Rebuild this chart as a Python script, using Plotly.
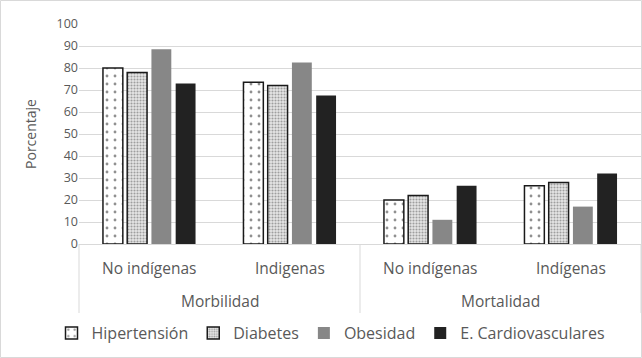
import plotly.graph_objects as go

grupos = ["Morbilidad", "Morbilidad", "Mortalidad", "Mortalidad"]
poblaciones = ["No indígenas", "Indigenas", "No indígenas", "Indígenas"]

hipertension = [80, 73.5, 20, 26.5]
diabetes = [78, 72, 22, 28]
obesidad = [88.5, 82.5, 11, 17]
cardio = [73, 67.5, 26.5, 32]

series = ["Hipertensión", "Diabetes", "Obesidad", "E. Cardiovasculares"]

claves = [f"{g}|{p}" for g, p in zip(grupos, poblaciones)]
font_fam = "Open Sans, Noto Sans, sans-serif"
gris = "#595959"
linea = "#d9d9d9"

fig = go.Figure()
fig.add_bar(x=claves, y=hipertension, name=series[0],
            marker=dict(color="white", line=dict(color="#1a1a1a", width=1.5),
                        pattern=dict(shape=".", fgcolor="#222222", bgcolor="white",
                                     size=8, solidity=0.1)))
fig.add_bar(x=claves, y=diabetes, name=series[1],
            marker=dict(color="white", line=dict(color="#1a1a1a", width=1.5),
                        pattern=dict(shape=".", fgcolor="#555555", bgcolor="#e6e6e6",
                                     size=3, solidity=0.4)))
fig.add_bar(x=claves, y=obesidad, name=series[2],
            marker=dict(color="#878787", line=dict(width=0)))
fig.add_bar(x=claves, y=cardio, name=series[3],
            marker=dict(color="#222222", line=dict(width=0)))

L, R, T, B = 79, 1, 24, 114
W, H = 642, 358
pw, ph = W - L - R, H - T - B

def py(pix):
    return (T + ph - pix) / ph

fig.update_layout(
    width=W, height=H,
    margin=dict(l=L, r=R, t=T, b=B, autoexpand=False),
    paper_bgcolor="white", plot_bgcolor="white",
    barmode="group", bargap=0.31, bargroupgap=0.18,
    font=dict(family=font_fam, color=gris, size=12),
    legend=dict(orientation="h", x=(331 - L) / pw, xanchor="center",
                y=py(333), yanchor="middle",
                font=dict(size=16, color=gris), itemwidth=30,
                traceorder="normal"),
    showlegend=True,
)
fig.update_yaxes(range=[0, 100], dtick=10, showgrid=True, gridcolor=linea,
                 gridwidth=1, zeroline=False, showline=False, automargin=False,
                 tickfont=dict(size=12.5, color=gris), ticks="",
                 title=dict(text="Porcentaje", font=dict(size=14, color=gris), standoff=16))
fig.update_xaxes(type="category", showline=True, linecolor=linea, linewidth=1,
                 showticklabels=False, ticks="", automargin=False)

# category labels
for k, p in zip(claves, poblaciones):
    fig.add_annotation(x=k, xref="x", y=py(268), yref="paper", text=p,
                       showarrow=False, font=dict(size=15.5, color=gris),
                       xanchor="center", yanchor="middle")
for i, g in enumerate(dict.fromkeys(grupos)):
    fig.add_annotation(x=0.25 + 0.5 * i, xref="paper", y=py(301), yref="paper", text=g,
                       showarrow=False, font=dict(size=15.5, color=gris),
                       xanchor="center", yanchor="middle")
# dividers
for xd in [0, 0.5, 1]:
    fig.add_shape(type="line", xref="paper", yref="paper", x0=xd, x1=xd,
                  y0=0, y1=py(313), line=dict(color=linea, width=1))

fig.add_shape(type="rect", xref="paper", yref="paper",
              x0=(0.5 - L) / pw, x1=(W - 0.5 - L) / pw,
              y0=py(H - 0.5), y1=py(0.5),
              line=dict(color=linea, width=1), layer="below")

fig.write_html("out.html", config={"displayModeBar": False},
               post_script="document.body.style.margin='0';document.body.style.overflow='hidden';")
